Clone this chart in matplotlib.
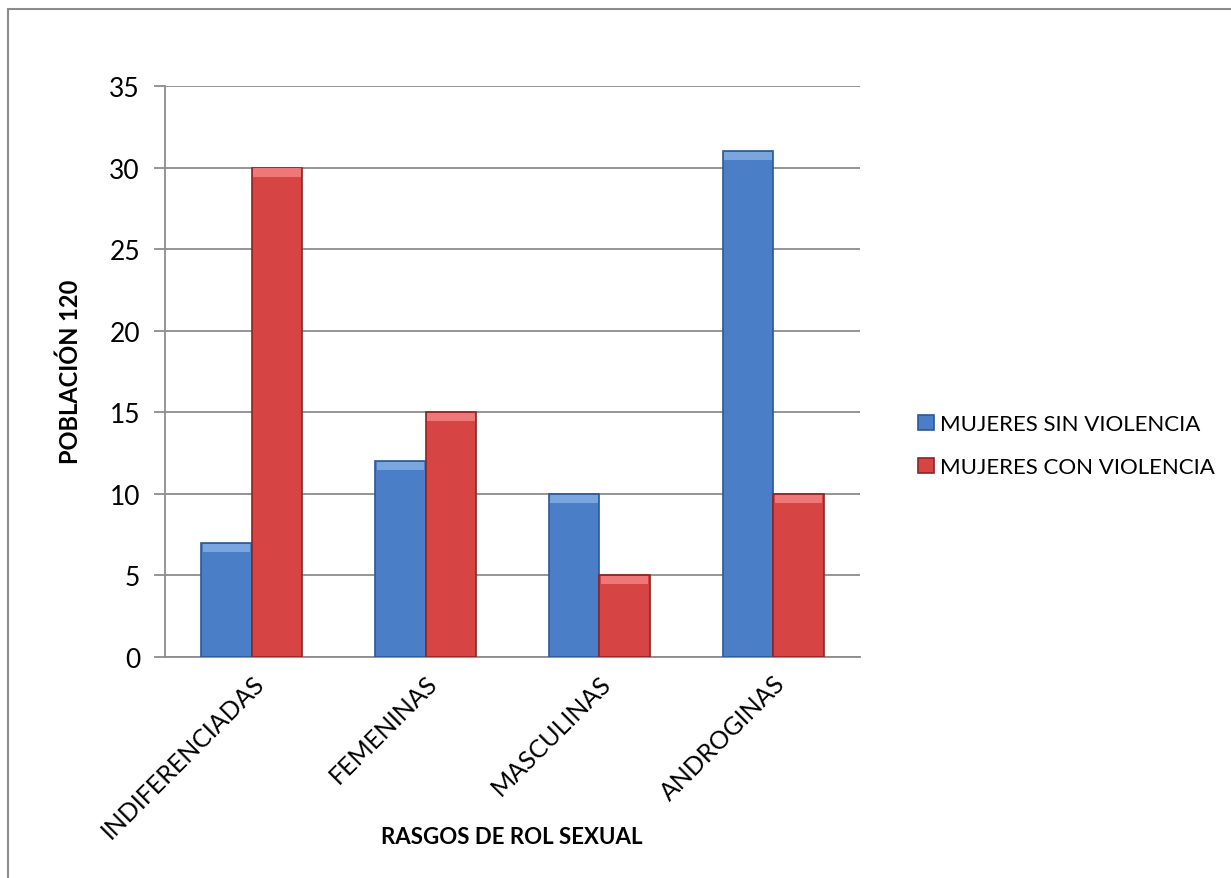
import numpy as np
import matplotlib
matplotlib.use("Agg")
import matplotlib.pyplot as plt
from matplotlib.patches import Rectangle

categories = ["INDIFERENCIADAS", "FEMENINAS", "MASCULINAS", "ANDROGINAS"]
sin_violencia = [7, 12, 10, 31]
con_violencia = [30, 15, 5, 10]
series_names = ["MUJERES SIN VIOLENCIA", "MUJERES CON VIOLENCIA"]
y_ticks = [0, 5, 10, 15, 20, 25, 30, 35]

plt.rcParams['font.family'] = ['Lato', 'DejaVu Sans']

fig = plt.figure(figsize=(12.31, 8.79), dpi=100)
fig.patches.append(Rectangle((8 / 1231, -0.01), 1.02, 1 - 10 / 879 + 0.01,
                             transform=fig.transFigure, fill=False,
                             edgecolor='#8c8c8c', linewidth=1.5))

ax = fig.add_axes([165 / 1231, 1 - 658 / 879, 695 / 1231, 571 / 879])

x = np.arange(len(categories))
w = 0.29
blue, blue_edge, blue_top = '#4a7fc8', '#2d5896', '#7aa6e0'
red, red_edge, red_top = '#d64444', '#8e2424', '#ee7777'

ax.bar(x - w / 2, sin_violencia, w, color=blue, edgecolor=blue_edge,
       linewidth=1.2, label=series_names[0], zorder=3)
ax.bar(x + w / 2, con_violencia, w, color=red, edgecolor=red_edge,
       linewidth=1.2, label=series_names[1], zorder=3)
# lighter bevel strip at the top of each bar
ax.bar(x - w / 2, [0.5] * len(x), w * 0.94, bottom=np.array(sin_violencia) - 0.55,
       color=blue_top, linewidth=0, zorder=4)
ax.bar(x + w / 2, [0.5] * len(x), w * 0.94, bottom=np.array(con_violencia) - 0.55,
       color=red_top, linewidth=0, zorder=4)

ax.set_xlim(-0.5, len(categories) - 0.5)
ax.set_ylim(0, 35)
ax.set_yticks(y_ticks)
ax.yaxis.grid(True, color='#8c8c8c', linewidth=1.3, zorder=0)
ax.set_axisbelow(True)
for s in ['top', 'right']:
    ax.spines[s].set_visible(False)
for s in ['left', 'bottom']:
    ax.spines[s].set_color('#8c8c8c')
    ax.spines[s].set_linewidth(1.3)
ax.tick_params(axis='y', length=8, width=1.3, color='#8c8c8c', labelsize=19, pad=10)
ax.tick_params(axis='x', length=0, labelsize=18, pad=10)
ax.set_xticks(x)
ax.set_xticklabels(categories, rotation=45, ha='right', rotation_mode='anchor')

fig.text(70 / 1231, 1 - 372 / 879, "POBLACIÓN 120", rotation=90, fontsize=17,
         fontweight='bold', ha='center', va='center')
fig.text(512 / 1231, 1 - 838 / 879, "RASGOS DE ROL SEXUAL", fontsize=16,
         fontweight='bold', ha='center', va='center')

leg = ax.legend(loc='center left', bbox_to_anchor=(1.055, 0.37), frameon=False,
                fontsize=16, handlelength=0.7, handleheight=0.7,
                handletextpad=0.3, labelspacing=1.05)

fig.savefig("out.png", dpi=100)
